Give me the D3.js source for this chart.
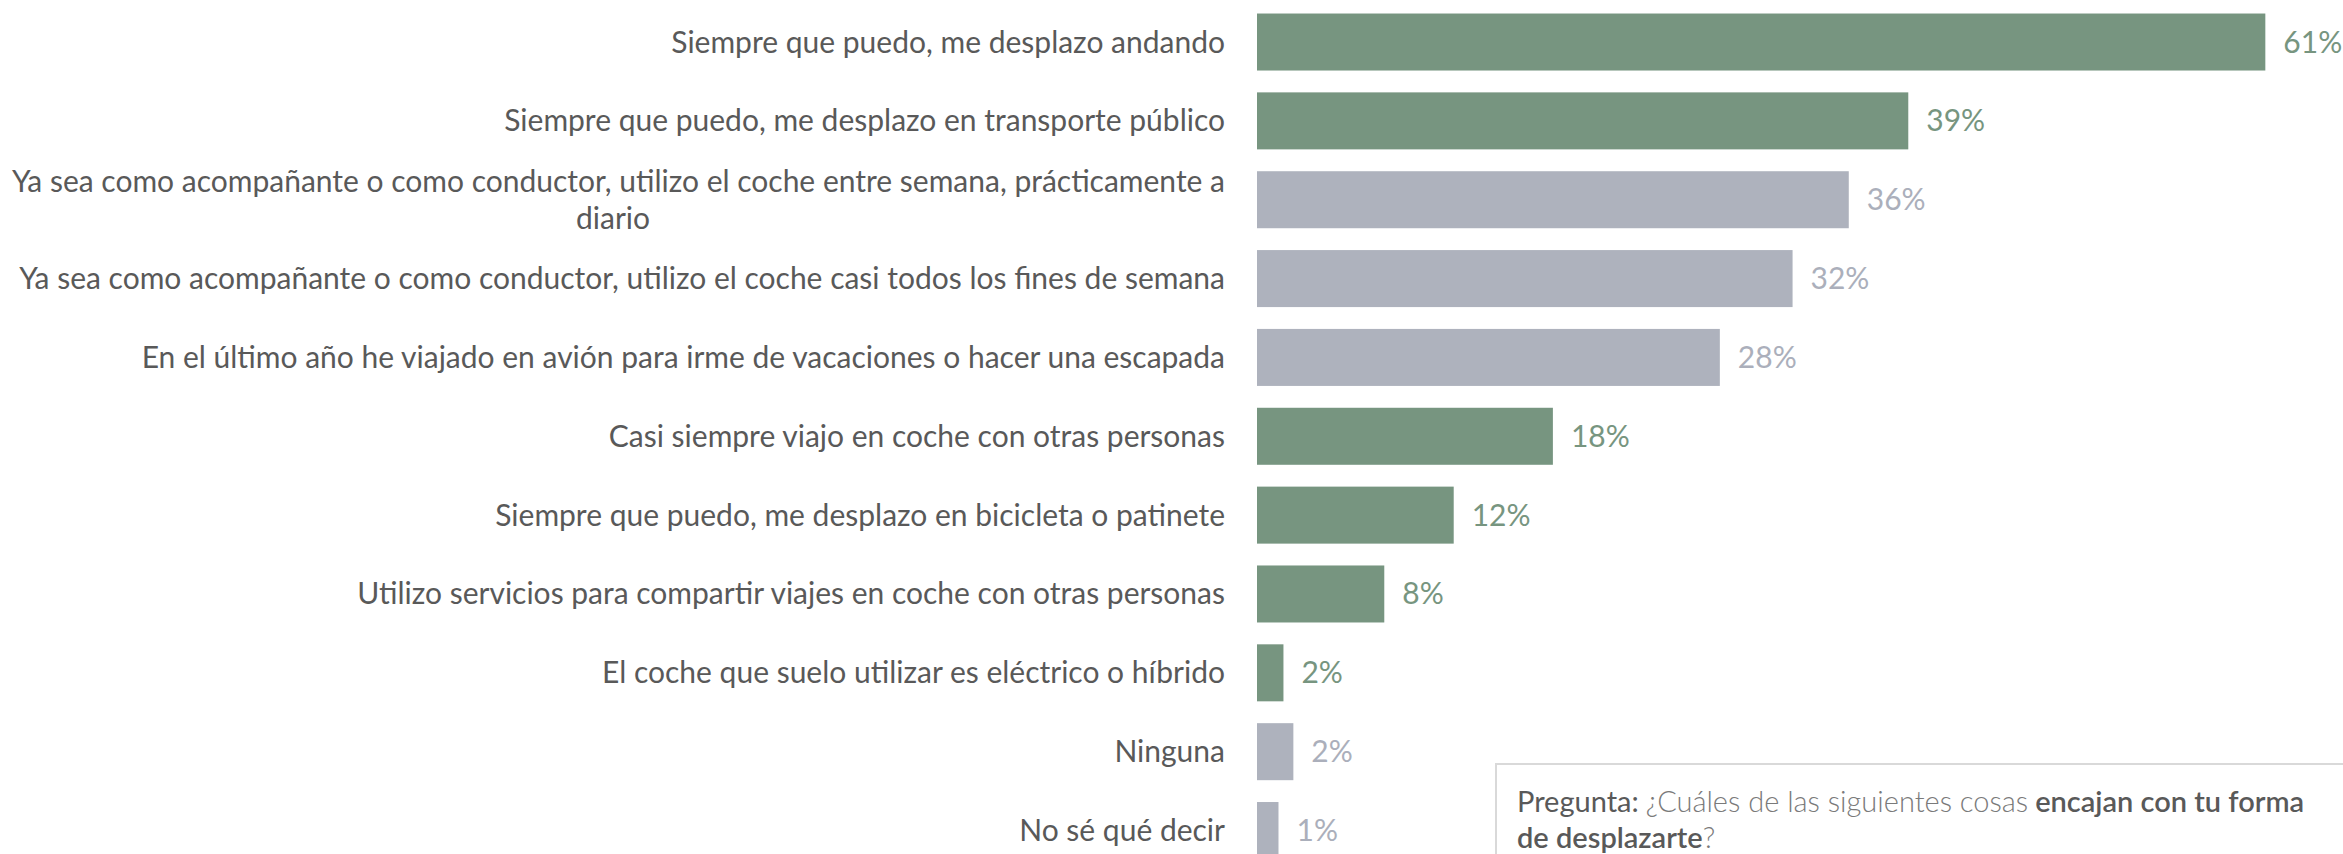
<!DOCTYPE html>
<html>
<head>
<meta charset="utf-8">
<script src="https://cdn.jsdelivr.net/npm/d3@7"></script>
<style>
  html, body { margin: 0; padding: 0; background: #fff; overflow: hidden; }
  svg { display: block; }
  text { font-family: Lato, "Open Sans", sans-serif; }
</style>
</head>
<body>
<div id="chart-container"></div>
<script>
const categories = [
  'Siempre que puedo, me desplazo andando',
  'Siempre que puedo, me desplazo en transporte público',
  'Ya sea como acompañante o como conductor, utilizo el coche entre semana, prácticamente a diario',
  'Ya sea como acompañante o como conductor, utilizo el coche casi todos los fines de semana',
  'En el último año he viajado en avión para irme de vacaciones o hacer una escapada',
  'Casi siempre viajo en coche con otras personas',
  'Siempre que puedo, me desplazo en bicicleta o patinete',
  'Utilizo servicios para compartir viajes en coche con otras personas',
  'El coche que suelo utilizar es eléctrico o híbrido',
  'Ninguna',
  'No sé qué decir'
];
const values = [61.0, 39.4, 35.8, 32.4, 28.0, 17.9, 11.9, 7.7, 1.6, 2.2, 1.3];
const labels = ['61%', '39%', '36%', '32%', '28%', '18%', '12%', '8%', '2%', '2%', '1%'];
// true = green (sustainable habit), false = grey
const highlight = [true, true, false, false, false, true, true, true, true, false, false];

// question text runs, one array per line
const questionLines = [
  [
    {t: 'Pregunta:', c: '#595959', w: 400, gap: true},
    {t: '¿Cuáles de las siguientes cosas', c: '#7a7a7a', w: 300, gap: true},
    {t: 'encajan con tu forma', c: '#595959', w: 600}
  ],
  [
    {t: 'de desplazarte', c: '#595959', w: 600},
    {t: '?', c: '#7a7a7a', w: 300}
  ]
];

const W = 2343, H = 854;
const GREEN = '#779580', GREY = '#aeb2bd';
const GREY_TXT = '#abafbb';
const step = 78.85;
const labelRight = 1225;
const fontSize = 30;

const svg = d3.select('#chart-container').append('svg')
  .attr('width', W)
  .attr('height', H);

const y = d3.scaleBand()
  .domain(categories)
  .range([2.6, 2.6 + categories.length * step])
  .paddingInner(0.277)
  .paddingOuter(0.1385);

const x = d3.scaleLinear()
  .domain([0, 100])
  .range([1257, 1257 + 1653]);

const rows = svg.append('g').selectAll('g')
  .data(categories)
  .enter().append('g');

rows.append('rect')
  .attr('x', x(0))
  .attr('y', d => y(d))
  .attr('width', (d, i) => x(values[i]) - x(0))
  .attr('height', y.bandwidth())
  .attr('fill', (d, i) => highlight[i] ? GREEN : GREY);

rows.append('text')
  .attr('x', (d, i) => x(values[i]) + 18)
  .attr('y', d => y(d) + y.bandwidth() / 2)
  .attr('dy', '0.35em')
  .attr('font-size', fontSize)
  .attr('fill', (d, i) => highlight[i] ? GREEN : GREY_TXT)
  .text((d, i) => labels[i]);

//category labels, wrapped if wider than the label column
const catText = rows.append('text')
  .attr('x', labelRight)
  .attr('y', d => y(d) + y.bandwidth() / 2)
  .attr('font-size', fontSize)
  .attr('fill', '#595959')
  .attr('text-anchor', 'end');

catText.each(function(d) {
  const el = d3.select(this);
  const words = d.split(' ');
  const lines = [];
  let line = [];
  const probe = el.append('tspan');
  words.forEach(w => {
    line.push(w);
    probe.text(line.join(' '));
    if (probe.node().getComputedTextLength() > 1235 && line.length > 1) {
      line.pop();
      lines.push(line.join(' '));
      line = [w];
    }
  });
  lines.push(line.join(' '));
  probe.remove();
  const lh = 37;
  lines.forEach((l, k) => {
    const isLast = k === lines.length - 1;
    el.append('tspan')
      .attr('x', isLast && lines.length > 1 ? (labelRight - 612) : labelRight)
      .attr('text-anchor', isLast && lines.length > 1 ? 'middle' : 'end')
      .attr('y', y(d) + y.bandwidth() / 2 + (k - (lines.length - 1) / 2) * lh)
      .attr('dy', '0.35em')
      .text(l);
  });
});

//question box
const box = svg.append('g').attr('transform', 'translate(1496,764)');
box.append('rect')
  .attr('x', 0)
  .attr('y', 0)
  .attr('width', 900)
  .attr('height', 200)
  .attr('fill', '#fff')
  .attr('stroke', '#d9d9d9')
  .attr('stroke-width', 2);

questionLines.forEach((runs, li) => {
  let cx = 21;
  runs.forEach(p => {
    const t = box.append('text')
      .attr('x', cx)
      .attr('y', 38 + li * 36)
      .attr('dy', '0.35em')
      .attr('font-size', 29)
      .attr('font-weight', p.w)
      .attr('fill', p.c)
      .text(p.t);
    cx += t.node().getComputedTextLength() + (p.gap ? 7 : 0);
  });
});
</script>
</body>
</html>
